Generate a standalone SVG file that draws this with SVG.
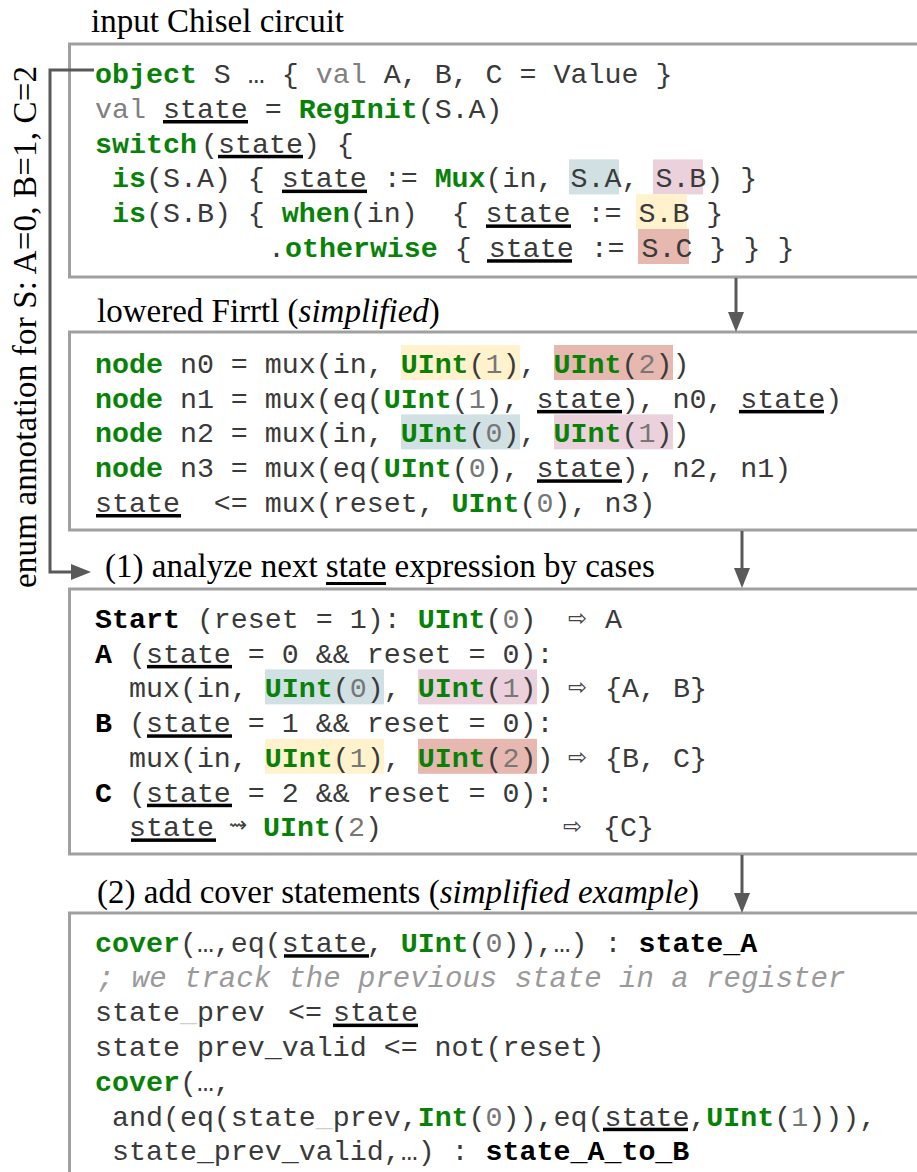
<svg xmlns="http://www.w3.org/2000/svg" width="917" height="1172" viewBox="0 0 917 1172">
<style>
.title{font-family:"Liberation Serif","Times New Roman",serif;font-size:33px;fill:#000}
.it{font-style:italic}
.code{font-family:"Liberation Mono","Courier New",monospace;font-size:28.3px;fill:#3a3a3a}
.kw{font-weight:bold;fill:#078207}
.b{font-weight:bold;fill:#000}
.n{fill:#777}
.v{fill:#808080}
.f{fill:#cfcfcf}
.cm{font-family:"Liberation Mono","Courier New",monospace;font-size:29px;font-style:italic;fill:#9a9a9a}
.sym{font-family:"DejaVu Sans",sans-serif;font-size:23px;fill:#444}
.ul{fill:#000}
.box{fill:#fff;stroke:#a0a0a0;stroke-width:3}
.conn{fill:none;stroke:#595959;stroke-width:3}
.hb{fill:#d0e0e3}.hp{fill:#ead1dc}.hy{fill:#fff2cc}.hr{fill:#e6b8af}
</style>
<defs>
<marker id="ah" markerUnits="userSpaceOnUse" viewBox="0 0 20 16" markerWidth="20" markerHeight="16" refX="10" refY="8" orient="auto"><path d="M0,0 L20,8 L0,16 z" fill="#595959"/></marker>
</defs>
<rect width="917" height="1172" fill="#fff"/>

<g id="box-chisel">
<text class="title" x="91" y="32">input Chisel circuit</text>
<rect class="box" x="69.5" y="44" width="900" height="233"/>
<rect class="hb" x="569" y="159.4" width="50" height="35"/>
<rect class="hp" x="653" y="159.4" width="50" height="35"/>
<rect class="hy" x="636" y="194.2" width="51" height="35"/>
<rect class="hr" x="638" y="229" width="51" height="35"/>
<text class="code" xml:space="preserve" x="95" y="83"><tspan class="kw">object</tspan> S … { <tspan class="v">val</tspan> A, B, C = Value }</text>
<text class="code" xml:space="preserve" x="95" y="117.8"><tspan class="v">val</tspan> state = <tspan class="kw">RegInit</tspan>(S.A)</text>
<rect class="ul" x="163" y="120" width="85" height="3.5"/>
<text class="code" xml:space="preserve" x="95" y="152.6"><tspan class="kw">switch</tspan><tspan x="201">(state) {</tspan></text>
<rect class="ul" x="218" y="154.8" width="85" height="3.5"/>
<text class="code" xml:space="preserve" x="95" y="187.4"> <tspan class="kw">is</tspan>(S.A) { state := <tspan class="kw">Mux</tspan>(in, S.A, S.B) }</text>
<rect class="ul" x="282" y="189.6" width="85" height="3.5"/>
<text class="code" xml:space="preserve" x="95" y="222.2"> <tspan class="kw">is</tspan>(S.B) { <tspan class="kw">when</tspan>(in)  { state := S.B }</text>
<rect class="ul" x="486" y="224.4" width="85" height="3.5"/>
<text class="code" xml:space="preserve" x="268" y="257">.<tspan class="kw">otherwise</tspan> { state := S.C } } }</text>
<rect class="ul" x="487" y="259.2" width="85" height="3.5"/>
</g>

<g id="box-firrtl">
<text class="title" x="97" y="322">lowered Firrtl (<tspan class="it">simplified</tspan>)</text>
<rect class="box" x="69.5" y="332" width="900" height="198"/>
<rect class="hy" x="401" y="345" width="119" height="35"/>
<rect class="hr" x="554" y="345" width="119" height="35"/>
<rect class="hb" x="401" y="414.4" width="119" height="35"/>
<rect class="hp" x="554" y="414.4" width="119" height="35"/>
<text class="code" xml:space="preserve" x="95" y="373"><tspan class="kw">node</tspan> n0 = mux(in, <tspan class="kw">UInt</tspan>(<tspan class="n">1</tspan>), <tspan class="kw">UInt</tspan>(<tspan class="n">2</tspan>))</text>
<text class="code" xml:space="preserve" x="95" y="407.7"><tspan class="kw">node</tspan> n1 = mux(eq(<tspan class="kw">UInt</tspan>(<tspan class="n">1</tspan>), state), n0, state)</text>
<rect class="ul" x="537" y="409.9" width="85" height="3.5"/>
<rect class="ul" x="739" y="409.9" width="85" height="3.5"/>
<text class="code" xml:space="preserve" x="95" y="442.4"><tspan class="kw">node</tspan> n2 = mux(in, <tspan class="kw">UInt</tspan>(<tspan class="n">0</tspan>), <tspan class="kw">UInt</tspan>(<tspan class="n">1</tspan>))</text>
<text class="code" xml:space="preserve" x="95" y="477.1"><tspan class="kw">node</tspan> n3 = mux(eq(<tspan class="kw">UInt</tspan>(<tspan class="n">0</tspan>), state), n2, n1)</text>
<rect class="ul" x="537" y="479.3" width="85" height="3.5"/>
<text class="code" xml:space="preserve" x="95" y="511.8">state  &lt;= mux(reset, <tspan class="kw">UInt</tspan>(<tspan class="n">0</tspan>), n3)</text>
<rect class="ul" x="96" y="514" width="85" height="3.5"/>
</g>

<g id="box-analyze">
<text class="title" x="105" y="577">(1) analyze next state expression by cases</text>
<rect class="ul" x="326" y="582" width="60" height="3"/>
<rect class="box" x="69.5" y="589" width="900" height="265"/>
<rect class="hb" x="265" y="669.4" width="119" height="35"/>
<rect class="hp" x="418" y="669.4" width="119" height="35"/>
<rect class="hy" x="265" y="738.8" width="119" height="35"/>
<rect class="hr" x="418" y="738.8" width="119" height="35"/>
<text class="code" xml:space="preserve" x="95" y="628"><tspan class="b">Start</tspan> (reset = 1): <tspan class="kw">UInt</tspan>(<tspan class="n">0</tspan>)</text>
<text class="sym" x="568" y="626">⇨</text>
<text class="code" x="605" y="628">A</text>
<text class="code" xml:space="preserve" x="95" y="662.7"><tspan class="b">A</tspan> (state = 0 &amp;&amp; reset = 0):</text>
<rect class="ul" x="147" y="664.9" width="85" height="3.5"/>
<text class="code" xml:space="preserve" x="95" y="697.4">  mux(in, <tspan class="kw">UInt</tspan>(<tspan class="n">0</tspan>), <tspan class="kw">UInt</tspan>(<tspan class="n">1</tspan>))</text>
<text class="sym" x="568" y="695.4">⇨</text>
<text class="code" xml:space="preserve" x="605" y="697.4">{A, B}</text>
<text class="code" xml:space="preserve" x="95" y="732.1"><tspan class="b">B</tspan> (state = 1 &amp;&amp; reset = 0):</text>
<rect class="ul" x="147" y="734.3" width="85" height="3.5"/>
<text class="code" xml:space="preserve" x="95" y="766.8">  mux(in, <tspan class="kw">UInt</tspan>(<tspan class="n">1</tspan>), <tspan class="kw">UInt</tspan>(<tspan class="n">2</tspan>))</text>
<text class="sym" x="568" y="764.8">⇨</text>
<text class="code" xml:space="preserve" x="605" y="766.8">{B, C}</text>
<text class="code" xml:space="preserve" x="95" y="801.5"><tspan class="b">C</tspan> (state = 2 &amp;&amp; reset = 0):</text>
<rect class="ul" x="147" y="803.7" width="85" height="3.5"/>
<text class="code" xml:space="preserve" x="95" y="836.2">  state</text>
<rect class="ul" x="131" y="838.4" width="85" height="3.5"/>
<text class="sym" x="229" y="832" style="font-size:22px">⇝</text>
<text class="code" xml:space="preserve" x="263" y="836.2"><tspan class="kw">UInt</tspan>(<tspan class="n">2</tspan>)</text>
<text class="sym" x="563" y="834.2">⇨</text>
<text class="code" xml:space="preserve" x="603" y="836.2">{C}</text>
</g>

<g id="box-cover">
<text class="title" x="97" y="903">(2) add cover statements (<tspan class="it">simplified example</tspan>)</text>
<rect class="box" x="69.5" y="913" width="900" height="300"/>
<text class="code" xml:space="preserve" x="95" y="952"><tspan class="kw">cover</tspan>(…,eq(state, <tspan class="kw">UInt</tspan>(<tspan class="n">0</tspan>)),…) : <tspan class="b">state_A</tspan></text>
<rect class="ul" x="284" y="954.2" width="85" height="3.5"/>
<text class="cm" xml:space="preserve" x="97" y="986.7">; we track the previous state in a register</text>
<text class="code" xml:space="preserve" x="95" y="1021.4">state<tspan class="f">_</tspan>prev<tspan x="288">&lt;=</tspan><tspan x="333">state</tspan></text>
<rect class="ul" x="333" y="1023.6" width="85" height="3.5"/>
<text class="code" xml:space="preserve" x="95" y="1056.1">state prev_valid &lt;= not(reset)</text>
<text class="code" xml:space="preserve" x="95" y="1090.8"><tspan class="kw">cover</tspan>(…,</text>
<text class="code" xml:space="preserve" x="95" y="1125.5"> and(eq(state<tspan class="f">_</tspan>prev,<tspan class="kw">Int</tspan>(<tspan class="n">0</tspan>)),eq(state,<tspan class="kw">UInt</tspan>(<tspan class="n">1</tspan>))),</text>
<rect class="ul" x="603" y="1127.7" width="85" height="3.5"/>
<text class="code" xml:space="preserve" x="95" y="1160.2"> state_prev_valid,…) : <tspan class="b">state_A_to_B</tspan></text>
</g>

<g id="connectors">
<line class="conn" x1="736" y1="278" x2="736" y2="322" marker-end="url(#ah)"/>
<line class="conn" x1="742" y1="531" x2="742" y2="578" marker-end="url(#ah)"/>
<line class="conn" x1="742" y1="855" x2="742" y2="903" marker-end="url(#ah)"/>
<path class="conn" d="M94,70 H50 V572 H81" marker-end="url(#ah)"/>
<text class="title" transform="translate(36,588) rotate(-90)" x="0" y="0" textLength="522" lengthAdjust="spacing">enum annotation for S: A=0, B=1, C=2</text>
</g>
</svg>
